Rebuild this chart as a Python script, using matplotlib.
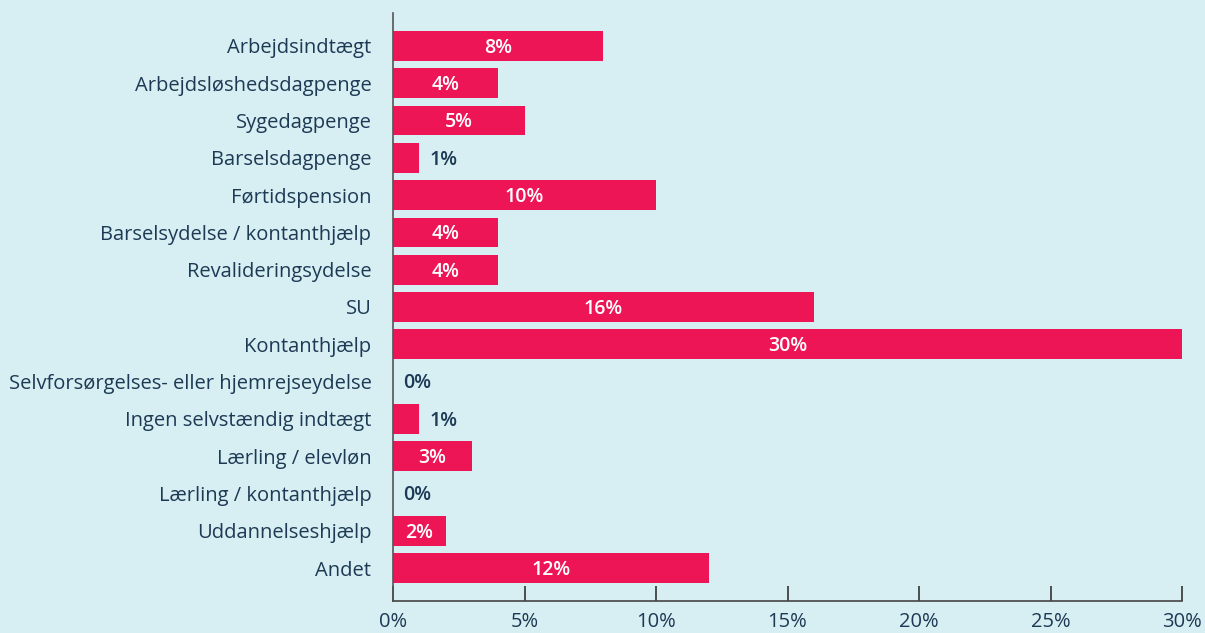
import matplotlib.pyplot as plt
from matplotlib.ticker import FuncFormatter

plt.rcParams['font.family'] = ['Open Sans', 'DejaVu Sans']

categories = ['Arbejdsindtægt', 'Arbejdsløshedsdagpenge', 'Sygedagpenge', 'Barselsdagpenge',
              'Førtidspension', 'Barselsydelse / kontanthjælp', 'Revalideringsydelse', 'SU',
              'Kontanthjælp', 'Selvforsørgelses- eller hjemrejseydelse', 'Ingen selvstændig indtægt',
              'Lærling / elevløn', 'Lærling / kontanthjælp', 'Uddannelseshjælp', 'Andet']
values = [8, 4, 5, 1, 10, 4, 4, 16, 30, 0, 1, 3, 0, 2, 12]
xticks = [0, 5, 10, 15, 20, 25, 30]

bg = '#d7eef2'
bar_color = '#ee1556'
text_color = '#1d3a55'

fig = plt.figure(figsize=(12.05, 6.33), dpi=100, facecolor=bg)
ax = fig.add_axes([393 / 1205, 32 / 633, 789 / 1205, 588 / 633])
ax.set_facecolor(bg)

ypos = list(range(len(categories)))
ax.barh(ypos, values, height=0.8, color=bar_color)

for y, v in zip(ypos, values):
    if v >= 2:
        ax.text(v / 2, y + 0.05, f'{v}%', color='white', ha='center', va='center',
                fontsize=14, fontweight='semibold')
    else:
        ax.text(v + 0.4, y + 0.05, f'{v}%', color=text_color, ha='left', va='center',
                fontsize=14, fontweight='semibold')

ax.set_xlim(0, 30)
ax.set_ylim(len(categories) - 1 + 0.885, -0.885)
ax.set_yticks(ypos)
ax.set_yticklabels(categories)
ax.set_xticks(xticks)
ax.xaxis.set_major_formatter(FuncFormatter(lambda v, p: f'{v:.0f}%'))

ax.tick_params(axis='y', length=0, pad=15.5, labelsize=14.5, labelcolor=text_color)
ax.tick_params(axis='x', direction='in', length=11, width=1.2, color='#333333',
               pad=8, labelsize=14.5, labelcolor=text_color)

for s in ['top', 'right']:
    ax.spines[s].set_visible(False)
ax.spines['left'].set_color('#555555')
ax.spines['bottom'].set_color('#444444')
ax.spines['left'].set_linewidth(1.2)
ax.spines['bottom'].set_linewidth(1.2)

fig.savefig('out.png', dpi=100, facecolor=bg)
